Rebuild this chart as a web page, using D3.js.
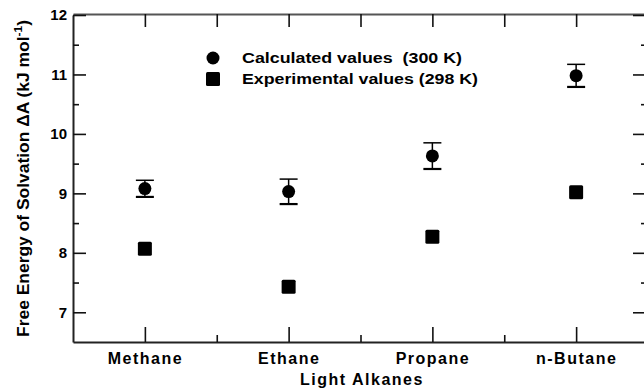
<!DOCTYPE html>
<html>
<head>
<meta charset="utf-8">
<script src="https://cdn.jsdelivr.net/npm/d3@7"></script>
<style>
  body { margin: 0; background: #fff; }
  svg { display: block; font-family: "Liberation Sans", Arial, sans-serif; font-weight: bold; }
</style>
</head>
<body>
<div id="chart"></div>
<script>
// data
const categories = ["Methane", "Ethane", "Propane", "n-Butane"]
const calculated = [9.08, 9.03, 9.63, 10.98]
const calculatedErr = [0.14, 0.21, 0.22, 0.19]
const experimental = [8.07, 7.43, 8.27, 9.02]
const yTicks = [7, 8, 9, 10, 11, 12]
const yMinor = [7.5, 8.5, 9.5, 10.5, 11.5]
const legendLabels = ["Calculated values\u00a0\u00a0(300 K)", "Experimental values (298 K)"]

const width = 644,
    height = 389,
    margin = { top: 15, right: -4, bottom: 47, left: 73 }

const x = d3.scaleLinear()
    .domain([0.5, categories.length + 0.5])
    .range([margin.left, width - margin.right])
const y = d3.scaleLinear()
    .domain([6.5, 12])
    .range([height - margin.bottom, margin.top])

const catIdx = categories.map((d, i) => i + 1)
const midIdx = catIdx.slice(0, -1).map(i => i + 0.5)

const svg = d3.select('#chart').append('svg')
    .attr('width', width)
    .attr('height', height)

svg.append('rect').attr('width', width).attr('height', height).attr('fill', '#fff')

const tidy = g => g
    .call(g => g.select('.domain').attr('stroke', '#222').attr('stroke-width', 2))
    .call(g => g.selectAll('.tick line').attr('stroke', '#111').attr('stroke-width', 1.6))

// bottom axis with category names
svg.append('g')
    .attr('transform', `translate(0,${y(6.5)})`)
    .call(d3.axisBottom(x).tickValues(catIdx).tickSize(-15).tickSizeOuter(0)
        .tickPadding(7).tickFormat(i => categories[i - 1]))
    .call(tidy)
    .call(g => g.selectAll('text')
        .attr('fill', '#000')
        .style('font-size', '16px')
        .style('letter-spacing', '1.5px')
        .attr('dy', '0.95em'))
svg.append('g')
    .attr('transform', `translate(0,${y(6.5)})`)
    .call(d3.axisBottom(x).tickValues(midIdx).tickSize(-7).tickFormat(''))
    .call(g => g.select('.domain').remove())
    .call(tidy)

// top axis
svg.append('g')
    .attr('transform', `translate(0,${y(12) - 1})`)
    .call(d3.axisTop(x).tickValues(catIdx.concat(midIdx)).tickSize(-13).tickSizeOuter(0).tickFormat(''))
    .call(tidy)
    .call(g => g.select('.domain').attr('stroke', '#555'))

// left axis
svg.append('g')
    .attr('transform', `translate(${x(0.5)},0)`)
    .call(d3.axisLeft(y).tickValues(yTicks).tickSize(-13).tickSizeOuter(0).tickPadding(6)
        .tickFormat(d3.format('d')))
    .call(tidy)
    .call(g => g.selectAll('text').attr('fill', '#000').style('font-size', '15px'))
svg.append('g')
    .attr('transform', `translate(${x(0.5)},0)`)
    .call(d3.axisLeft(y).tickValues(yMinor).tickSize(-6).tickFormat(''))
    .call(g => g.select('.domain').remove())
    .call(tidy)

// right axis
svg.append('g')
    .attr('transform', `translate(${x(categories.length + 0.5)},0)`)
    .call(d3.axisRight(y).tickValues(yTicks).tickSize(-15).tickSizeOuter(0).tickFormat(''))
    .call(tidy)
svg.append('g')
    .attr('transform', `translate(${x(categories.length + 0.5)},0)`)
    .call(d3.axisRight(y).tickValues(yMinor).tickSize(-7).tickFormat(''))
    .call(g => g.select('.domain').remove())
    .call(tidy)

// axis titles
svg.append('text')
    .attr('x', 362)
    .attr('y', 385)
    .attr('text-anchor', 'middle')
    .style('font-size', '16px')
    .style('letter-spacing', '1.5px')
    .text('Light Alkanes')

svg.append('text')
    .attr('transform', `translate(29,${(20 + 337) / 2}) rotate(-90)`)
    .attr('text-anchor', 'middle')
    .attr('textLength', 317)
    .attr('lengthAdjust', 'spacingAndGlyphs')
    .style('font-size', '16px')
    .call(t => t.append('tspan').text('Free Energy of Solvation \u0394A (kJ mol'))
    .call(t => t.append('tspan').attr('dy', -7).style('font-size', '11px').text('-1'))
    .call(t => t.append('tspan').attr('dy', 7).text(')'))

// error bars for calculated values
const capW = 9
const err = svg.append('g')
    .selectAll('g')
    .data(calculated)
    .join('g')
    .attr('stroke', '#000')
err.append('line')
    .attr('x1', (d, i) => x(i + 1)).attr('x2', (d, i) => x(i + 1))
    .attr('y1', (d, i) => y(d + calculatedErr[i])).attr('y2', (d, i) => y(d - calculatedErr[i]))
    .attr('stroke-width', 1.5)
err.append('line')
    .attr('x1', (d, i) => x(i + 1) - capW).attr('x2', (d, i) => x(i + 1) + capW)
    .attr('y1', (d, i) => y(d + calculatedErr[i])).attr('y2', (d, i) => y(d + calculatedErr[i]))
    .attr('stroke-width', 1.5)
err.append('line')
    .attr('x1', (d, i) => x(i + 1) - capW).attr('x2', (d, i) => x(i + 1) + capW)
    .attr('y1', (d, i) => y(d - calculatedErr[i])).attr('y2', (d, i) => y(d - calculatedErr[i]))
    .attr('stroke-width', 2.2)

// calculated points
svg.append('g')
    .selectAll('circle')
    .data(calculated)
    .join('circle')
    .attr('cx', (d, i) => x(i + 1))
    .attr('cy', d => y(d))
    .attr('r', 6.5)
    .attr('fill', '#000')

// experimental points
const sq = 14
svg.append('g')
    .selectAll('rect')
    .data(experimental)
    .join('rect')
    .attr('x', (d, i) => x(i + 1) - sq / 2)
    .attr('y', d => y(d) - sq / 2)
    .attr('width', sq)
    .attr('height', sq)
    .attr('rx', 1.5)
    .attr('fill', '#000')

// legend
const legend = svg.append('g').attr('transform', 'translate(213,58)')
legend.append('circle').attr('cx', 0).attr('cy', 0).attr('r', 6.5).attr('fill', '#000')
legend.append('rect').attr('x', -7).attr('y', 14).attr('width', 14).attr('height', 14).attr('rx', 1.5).attr('fill', '#000')
legend.selectAll('text')
    .data(legendLabels)
    .join('text')
    .attr('x', 29)
    .attr('y', (d, i) => 5 + i * 21)
    .attr('textLength', (d, i) => i ? 236 : 220)
    .attr('lengthAdjust', 'spacingAndGlyphs')
    .style('font-size', '14px')
    .text(d => d)
</script>
</body>
</html>
